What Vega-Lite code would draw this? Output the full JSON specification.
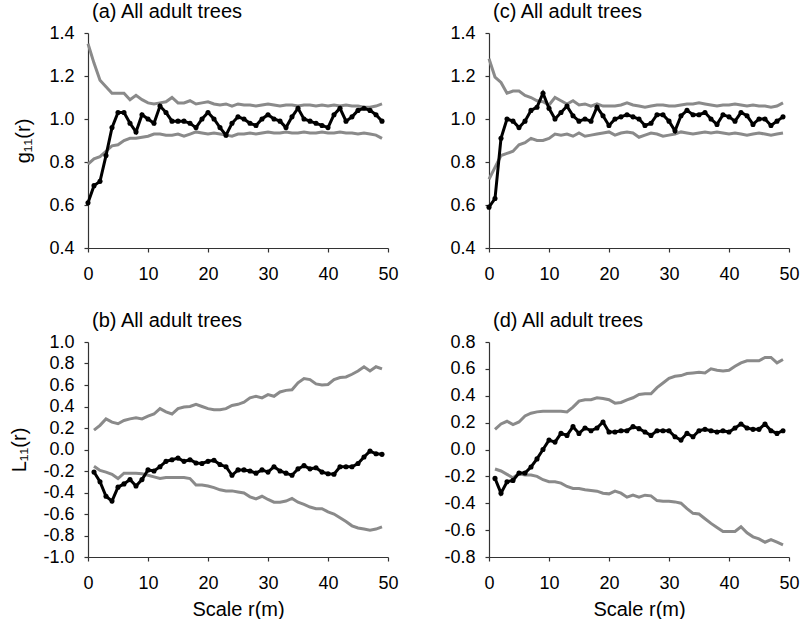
{
  "$schema": "https://vega.github.io/schema/vega-lite/v6.json",
  "padding": {"left": 9, "top": 2, "right": 0, "bottom": 0},
  "background": "white",
  "columns": 2,
  "bounds": "flush",
  "spacing": {"row": 94, "column": 101},
  "datasets": {
    "a": [
      {"r":0,"o":0.61,"u":1.35,"l":0.79},{"r":1,"o":0.69,"u":1.26,"l":0.815},{"r":2,"o":0.71,"u":1.18,"l":0.825},{"r":3,"o":0.83,"u":1.15,"l":0.85},{"r":4,"o":0.96,"u":1.12,"l":0.875},
      {"r":5,"o":1.03,"u":1.12,"l":0.88},{"r":6,"o":1.03,"u":1.12,"l":0.90},{"r":7,"o":0.98,"u":1.09,"l":0.91},{"r":8,"o":0.94,"u":1.11,"l":0.91},{"r":9,"o":1.02,"u":1.09,"l":0.915},
      {"r":10,"o":1.00,"u":1.075,"l":0.92},{"r":11,"o":0.98,"u":1.07,"l":0.93},{"r":12,"o":1.06,"u":1.075,"l":0.93},{"r":13,"o":1.03,"u":1.08,"l":0.925},{"r":14,"o":0.99,"u":1.10,"l":0.925},
      {"r":15,"o":0.99,"u":1.075,"l":0.93},{"r":16,"o":0.99,"u":1.075,"l":0.92},{"r":17,"o":0.98,"u":1.085,"l":0.93},{"r":18,"o":0.96,"u":1.07,"l":0.94},{"r":19,"o":1.00,"u":1.075,"l":0.935},
      {"r":20,"o":1.03,"u":1.08,"l":0.93},{"r":21,"o":1.00,"u":1.07,"l":0.935},{"r":22,"o":0.96,"u":1.065,"l":0.93},{"r":23,"o":0.925,"u":1.07,"l":0.925},{"r":24,"o":0.98,"u":1.06,"l":0.92},
      {"r":25,"o":1.01,"u":1.07,"l":0.93},{"r":26,"o":1.00,"u":1.065,"l":0.93},{"r":27,"o":0.98,"u":1.065,"l":0.935},{"r":28,"o":0.97,"u":1.06,"l":0.93},{"r":29,"o":1.00,"u":1.065,"l":0.935},
      {"r":30,"o":1.02,"u":1.07,"l":0.94},{"r":31,"o":1.00,"u":1.065,"l":0.935},{"r":32,"o":0.99,"u":1.06,"l":0.935},{"r":33,"o":0.96,"u":1.065,"l":0.94},{"r":34,"o":1.01,"u":1.065,"l":0.935},
      {"r":35,"o":1.05,"u":1.06,"l":0.935},{"r":36,"o":1.00,"u":1.065,"l":0.94},{"r":37,"o":0.99,"u":1.065,"l":0.935},{"r":38,"o":0.98,"u":1.06,"l":0.935},{"r":39,"o":0.97,"u":1.065,"l":0.94},
      {"r":40,"o":0.96,"u":1.06,"l":0.935},{"r":41,"o":1.02,"u":1.065,"l":0.935},{"r":42,"o":1.05,"u":1.06,"l":0.94},{"r":43,"o":0.99,"u":1.065,"l":0.935},{"r":44,"o":1.01,"u":1.06,"l":0.935},
      {"r":45,"o":1.04,"u":1.06,"l":0.93},{"r":46,"o":1.05,"u":1.055,"l":0.935},{"r":47,"o":1.04,"u":1.055,"l":0.93},{"r":48,"o":1.02,"u":1.06,"l":0.925},{"r":49,"o":0.99,"u":1.07,"l":0.91}
    ],
    "c": [
      {"r":0,"o":0.59,"u":1.28,"l":0.72},{"r":1,"o":0.63,"u":1.195,"l":0.775},{"r":2,"o":0.91,"u":1.17,"l":0.83},{"r":3,"o":1.0,"u":1.12,"l":0.84},{"r":4,"o":0.99,"u":1.13,"l":0.85},
      {"r":5,"o":0.96,"u":1.13,"l":0.88},{"r":6,"o":0.99,"u":1.11,"l":0.89},{"r":7,"o":1.04,"u":1.10,"l":0.91},{"r":8,"o":1.055,"u":1.085,"l":0.90},{"r":9,"o":1.12,"u":1.08,"l":0.90},
      {"r":10,"o":1.05,"u":1.065,"l":0.91},{"r":11,"o":1.0,"u":1.10,"l":0.93},{"r":12,"o":1.03,"u":1.085,"l":0.925},{"r":13,"o":1.06,"u":1.07,"l":0.93},{"r":14,"o":1.015,"u":1.085,"l":0.92},
      {"r":15,"o":0.99,"u":1.065,"l":0.935},{"r":16,"o":1.0,"u":1.07,"l":0.92},{"r":17,"o":0.99,"u":1.06,"l":0.925},{"r":18,"o":1.055,"u":1.07,"l":0.93},{"r":19,"o":1.015,"u":1.06,"l":0.935},
      {"r":20,"o":0.97,"u":1.06,"l":0.94},{"r":21,"o":1.0,"u":1.06,"l":0.925},{"r":22,"o":1.01,"u":1.065,"l":0.935},{"r":23,"o":1.02,"u":1.075,"l":0.94},{"r":24,"o":1.01,"u":1.065,"l":0.935},
      {"r":25,"o":1.0,"u":1.06,"l":0.915},{"r":26,"o":0.97,"u":1.055,"l":0.925},{"r":27,"o":0.98,"u":1.06,"l":0.935},{"r":28,"o":1.02,"u":1.065,"l":0.93},{"r":29,"o":1.02,"u":1.065,"l":0.92},
      {"r":30,"o":0.99,"u":1.06,"l":0.925},{"r":31,"o":0.945,"u":1.06,"l":0.93},{"r":32,"o":1.015,"u":1.065,"l":0.94},{"r":33,"o":1.04,"u":1.07,"l":0.935},{"r":34,"o":1.02,"u":1.07,"l":0.93},
      {"r":35,"o":1.02,"u":1.075,"l":0.935},{"r":36,"o":1.03,"u":1.07,"l":0.94},{"r":37,"o":1.0,"u":1.065,"l":0.935},{"r":38,"o":0.975,"u":1.06,"l":0.94},{"r":39,"o":1.02,"u":1.065,"l":0.935},
      {"r":40,"o":1.01,"u":1.065,"l":0.93},{"r":41,"o":0.99,"u":1.07,"l":0.935},{"r":42,"o":1.03,"u":1.065,"l":0.93},{"r":43,"o":1.015,"u":1.06,"l":0.925},{"r":44,"o":0.975,"u":1.065,"l":0.93},
      {"r":45,"o":1.0,"u":1.06,"l":0.935},{"r":46,"o":1.0,"u":1.06,"l":0.93},{"r":47,"o":0.97,"u":1.055,"l":0.925},{"r":48,"o":0.99,"u":1.06,"l":0.93},{"r":49,"o":1.01,"u":1.075,"l":0.935}
    ],
    "b": [
      {"r":1,"o":-0.21,"u":0.18,"l":-0.155},{"r":2,"o":-0.30,"u":0.225,"l":-0.195},{"r":3,"o":-0.435,"u":0.285,"l":-0.21},{"r":4,"o":-0.48,"u":0.255,"l":-0.23},{"r":5,"o":-0.35,"u":0.24,"l":-0.27},
      {"r":6,"o":-0.32,"u":0.27,"l":-0.22},{"r":7,"o":-0.28,"u":0.285,"l":-0.22},{"r":8,"o":-0.34,"u":0.295,"l":-0.22},{"r":9,"o":-0.28,"u":0.285,"l":-0.225},{"r":10,"o":-0.19,"u":0.31,"l":-0.24},
      {"r":11,"o":-0.20,"u":0.33,"l":-0.255},{"r":12,"o":-0.16,"u":0.38,"l":-0.27},{"r":13,"o":-0.11,"u":0.35,"l":-0.26},{"r":14,"o":-0.095,"u":0.33,"l":-0.26},{"r":15,"o":-0.08,"u":0.38,"l":-0.26},
      {"r":16,"o":-0.11,"u":0.395,"l":-0.26},{"r":17,"o":-0.095,"u":0.40,"l":-0.27},{"r":18,"o":-0.125,"u":0.42,"l":-0.33},{"r":19,"o":-0.13,"u":0.40,"l":-0.33},{"r":20,"o":-0.11,"u":0.38,"l":-0.34},
      {"r":21,"o":-0.10,"u":0.37,"l":-0.355},{"r":22,"o":-0.14,"u":0.37,"l":-0.375},{"r":23,"o":-0.16,"u":0.38,"l":-0.385},{"r":24,"o":-0.24,"u":0.41,"l":-0.385},{"r":25,"o":-0.19,"u":0.42,"l":-0.395},
      {"r":26,"o":-0.19,"u":0.44,"l":-0.405},{"r":27,"o":-0.20,"u":0.48,"l":-0.44},{"r":28,"o":-0.22,"u":0.495,"l":-0.46},{"r":29,"o":-0.19,"u":0.48,"l":-0.435},{"r":30,"o":-0.21,"u":0.51,"l":-0.465},
      {"r":31,"o":-0.16,"u":0.495,"l":-0.49},{"r":32,"o":-0.20,"u":0.535,"l":-0.49},{"r":33,"o":-0.22,"u":0.55,"l":-0.48},{"r":34,"o":-0.24,"u":0.555,"l":-0.455},{"r":35,"o":-0.18,"u":0.62,"l":-0.49},
      {"r":36,"o":-0.15,"u":0.66,"l":-0.51},{"r":37,"o":-0.18,"u":0.65,"l":-0.535},{"r":38,"o":-0.17,"u":0.61,"l":-0.55},{"r":39,"o":-0.21,"u":0.60,"l":-0.55},{"r":40,"o":-0.225,"u":0.605,"l":-0.58},
      {"r":41,"o":-0.23,"u":0.65,"l":-0.60},{"r":42,"o":-0.16,"u":0.67,"l":-0.635},{"r":43,"o":-0.16,"u":0.675,"l":-0.67},{"r":44,"o":-0.16,"u":0.70,"l":-0.71},{"r":45,"o":-0.13,"u":0.73,"l":-0.73},
      {"r":46,"o":-0.07,"u":0.77,"l":-0.74},{"r":47,"o":-0.015,"u":0.73,"l":-0.75},{"r":48,"o":-0.04,"u":0.77,"l":-0.74},{"r":49,"o":-0.045,"u":0.75,"l":-0.72}
    ],
    "d": [
      {"r":1,"o":-0.215,"u":0.15,"l":-0.145},{"r":2,"o":-0.325,"u":0.19,"l":-0.16},{"r":3,"o":-0.24,"u":0.21,"l":-0.185},{"r":4,"o":-0.23,"u":0.185,"l":-0.21},{"r":5,"o":-0.175,"u":0.205,"l":-0.18},
      {"r":6,"o":-0.175,"u":0.25,"l":-0.19},{"r":7,"o":-0.13,"u":0.27,"l":-0.19},{"r":8,"o":-0.07,"u":0.28,"l":-0.20},{"r":9,"o":0.0,"u":0.285,"l":-0.225},{"r":10,"o":0.07,"u":0.285,"l":-0.24},
      {"r":11,"o":0.055,"u":0.285,"l":-0.24},{"r":12,"o":0.12,"u":0.285,"l":-0.25},{"r":13,"o":0.105,"u":0.28,"l":-0.275},{"r":14,"o":0.17,"u":0.315,"l":-0.29},{"r":15,"o":0.12,"u":0.36,"l":-0.29},
      {"r":16,"o":0.16,"u":0.37,"l":-0.30},{"r":17,"o":0.14,"u":0.37,"l":-0.305},{"r":18,"o":0.16,"u":0.385,"l":-0.31},{"r":19,"o":0.205,"u":0.38,"l":-0.325},{"r":20,"o":0.13,"u":0.37,"l":-0.33},
      {"r":21,"o":0.13,"u":0.345,"l":-0.31},{"r":22,"o":0.14,"u":0.35,"l":-0.325},{"r":23,"o":0.14,"u":0.37,"l":-0.355},{"r":24,"o":0.17,"u":0.385,"l":-0.34},{"r":25,"o":0.155,"u":0.41,"l":-0.355},
      {"r":26,"o":0.13,"u":0.415,"l":-0.34},{"r":27,"o":0.105,"u":0.415,"l":-0.345},{"r":28,"o":0.14,"u":0.46,"l":-0.38},{"r":29,"o":0.14,"u":0.495,"l":-0.385},{"r":30,"o":0.14,"u":0.53,"l":-0.385},
      {"r":31,"o":0.095,"u":0.545,"l":-0.39},{"r":32,"o":0.07,"u":0.55,"l":-0.40},{"r":33,"o":0.12,"u":0.565,"l":-0.44},{"r":34,"o":0.095,"u":0.57,"l":-0.475},{"r":35,"o":0.14,"u":0.575,"l":-0.48},
      {"r":36,"o":0.15,"u":0.57,"l":-0.515},{"r":37,"o":0.14,"u":0.60,"l":-0.55},{"r":38,"o":0.13,"u":0.59,"l":-0.58},{"r":39,"o":0.14,"u":0.585,"l":-0.61},{"r":40,"o":0.13,"u":0.59,"l":-0.61},
      {"r":41,"o":0.16,"u":0.62,"l":-0.61},{"r":42,"o":0.19,"u":0.645,"l":-0.575},{"r":43,"o":0.16,"u":0.66,"l":-0.62},{"r":44,"o":0.15,"u":0.66,"l":-0.65},{"r":45,"o":0.15,"u":0.66,"l":-0.665},
      {"r":46,"o":0.19,"u":0.685,"l":-0.69},{"r":47,"o":0.14,"u":0.685,"l":-0.67},{"r":48,"o":0.12,"u":0.645,"l":-0.69},{"r":49,"o":0.14,"u":0.67,"l":-0.71}
    ]
  },
  "concat": [
    {
      "width": 300, "height": 215,
      "data": {"name": "a"},
      "title": "(a) All adult trees",
      "transform": [{"fold": ["u", "l", "o"], "as": ["s", "v"]}],
      "encoding": {
        "x": {"field": "r", "type": "quantitative", "scale": {"domain": [0, 50], "nice": false}, "axis": {"values": [0, 10, 20, 30, 40, 50], "title": null}},
        "y": {"field": "v", "type": "quantitative", "scale": {"domain": [0.4, 1.4], "nice": false, "zero": false}, "axis": {"values": [0.4, 0.6, 0.8, 1.0, 1.2, 1.4], "format": ".1f", "title": "g₁₁(r)", "titlePadding": 15}}
      },
      "layer": [
        {"transform": [{"filter": "datum.s !== 'o'"}], "mark": {"type": "line", "color": "#8a8a8a", "strokeWidth": 3}, "encoding": {"detail": {"field": "s"}}},
        {"transform": [{"filter": "datum.s === 'o'"}], "mark": {"type": "line", "color": "#000000", "strokeWidth": 3, "point": {"filled": true, "color": "#000000", "size": 26, "opacity": 1}}, "encoding": {}}
      ]
    },
    {
      "width": 300, "height": 215,
      "data": {"name": "c"},
      "title": "(c) All adult trees",
      "transform": [{"fold": ["u", "l", "o"], "as": ["s", "v"]}],
      "encoding": {
        "x": {"field": "r", "type": "quantitative", "scale": {"domain": [0, 50], "nice": false}, "axis": {"values": [0, 10, 20, 30, 40, 50], "title": null}},
        "y": {"field": "v", "type": "quantitative", "scale": {"domain": [0.4, 1.4], "nice": false, "zero": false}, "axis": {"values": [0.4, 0.6, 0.8, 1.0, 1.2, 1.4], "format": ".1f", "title": null}}
      },
      "layer": [
        {"transform": [{"filter": "datum.s !== 'o'"}], "mark": {"type": "line", "color": "#8a8a8a", "strokeWidth": 3}, "encoding": {"detail": {"field": "s"}}},
        {"transform": [{"filter": "datum.s === 'o'"}], "mark": {"type": "line", "color": "#000000", "strokeWidth": 3, "point": {"filled": true, "color": "#000000", "size": 26, "opacity": 1}}, "encoding": {}}
      ]
    },
    {
      "width": 300, "height": 215,
      "data": {"name": "b"},
      "title": "(b) All adult trees",
      "transform": [{"fold": ["u", "l", "o"], "as": ["s", "v"]}],
      "encoding": {
        "x": {"field": "r", "type": "quantitative", "scale": {"domain": [0, 50], "nice": false}, "axis": {"values": [0, 10, 20, 30, 40, 50], "title": "Scale r(m)"}},
        "y": {"field": "v", "type": "quantitative", "scale": {"domain": [-1, 1], "nice": false, "zero": false}, "axis": {"values": [-1, -0.8, -0.6, -0.4, -0.2, 0, 0.2, 0.4, 0.6, 0.8, 1], "format": ".1f", "labelExpr": "replace(datum.label, '−', '-')", "title": "L₁₁(r)", "titlePadding": 13}}
      },
      "layer": [
        {"transform": [{"filter": "datum.s !== 'o'"}], "mark": {"type": "line", "color": "#8a8a8a", "strokeWidth": 3}, "encoding": {"detail": {"field": "s"}}},
        {"transform": [{"filter": "datum.s === 'o'"}], "mark": {"type": "line", "color": "#000000", "strokeWidth": 3, "point": {"filled": true, "color": "#000000", "size": 26, "opacity": 1}}, "encoding": {}}
      ]
    },
    {
      "width": 300, "height": 215,
      "data": {"name": "d"},
      "title": "(d) All adult trees",
      "transform": [{"fold": ["u", "l", "o"], "as": ["s", "v"]}],
      "encoding": {
        "x": {"field": "r", "type": "quantitative", "scale": {"domain": [0, 50], "nice": false}, "axis": {"values": [0, 10, 20, 30, 40, 50], "title": "Scale r(m)"}},
        "y": {"field": "v", "type": "quantitative", "scale": {"domain": [-0.8, 0.8], "nice": false, "zero": false}, "axis": {"values": [-0.8, -0.6, -0.4, -0.2, 0, 0.2, 0.4, 0.6, 0.8], "format": ".1f", "labelExpr": "replace(datum.label, '−', '-')", "title": null}}
      },
      "layer": [
        {"transform": [{"filter": "datum.s !== 'o'"}], "mark": {"type": "line", "color": "#8a8a8a", "strokeWidth": 3}, "encoding": {"detail": {"field": "s"}}},
        {"transform": [{"filter": "datum.s === 'o'"}], "mark": {"type": "line", "color": "#000000", "strokeWidth": 3, "point": {"filled": true, "color": "#000000", "size": 26, "opacity": 1}}, "encoding": {}}
      ]
    }
  ],
  "config": {
    "font": "Liberation Sans",
    "view": {"stroke": null},
    "axis": {
      "grid": false,
      "domainColor": "#333333",
      "domainWidth": 1.2,
      "tickColor": "#333333",
      "tickWidth": 1.2,
      "tickSize": 4,
      "labelColor": "#000000",
      "labelFont": "Liberation Sans",
      "labelFontSize": 18,
      "labelPadding": 13,
      "labelFlush": false,
      "labelOverlap": false,
      "titleFont": "Liberation Sans",
      "titleFontSize": 20,
      "titleFontWeight": "normal",
      "titleColor": "#000000",
      "titlePadding": 7
    },
    "axisY": {"labelPadding": 10},
    "title": {
      "font": "Liberation Sans",
      "fontSize": 20,
      "fontWeight": "normal",
      "color": "#000000",
      "anchor": "start",
      "frame": "group",
      "baseline": "alphabetic",
      "offset": 2,
      "dx": 4
    }
  }
}
